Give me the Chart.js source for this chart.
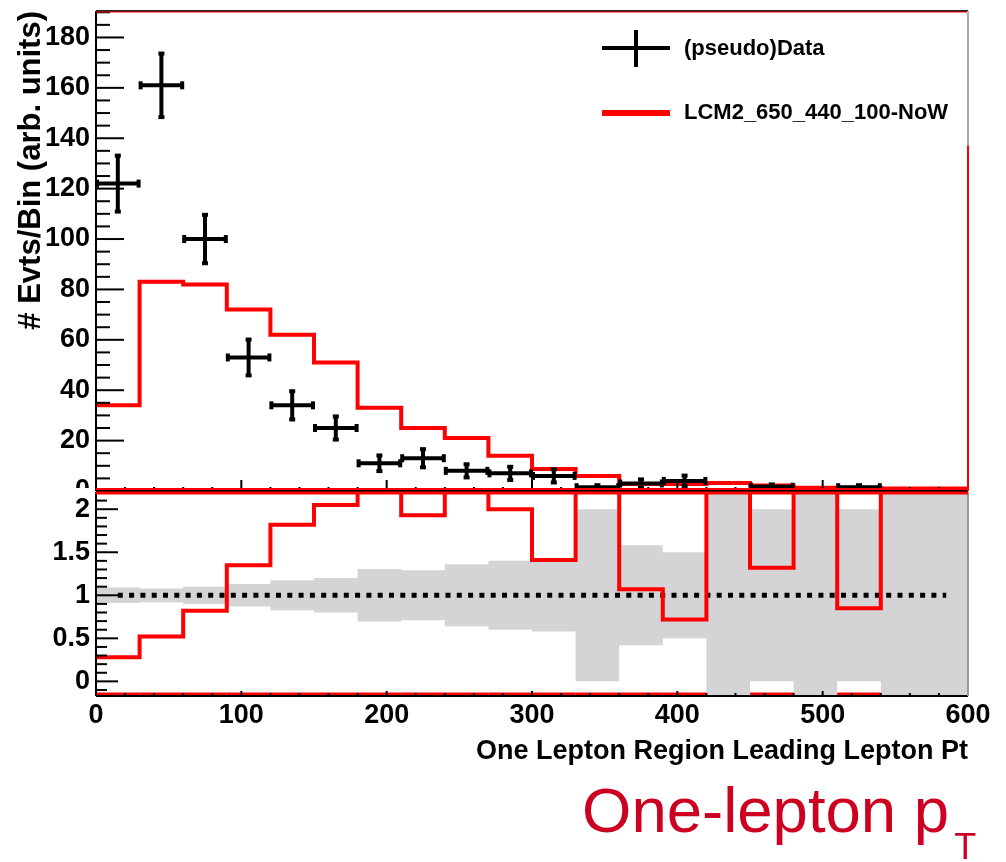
<!DOCTYPE html>
<html>
<head>
<meta charset="utf-8">
<script src="https://cdn.jsdelivr.net/npm/chart.js@4.4.1/dist/chart.umd.min.js"></script>
<style>
html, body { margin: 0; padding: 0; background: #fff; }
#wrap { position: relative; width: 1006px; height: 862px; overflow: hidden; }
#top_canvas { position: absolute; left: 0; top: 0; }
#ratio_canvas { position: absolute; left: 0; top: 480px; }
#tag { position: absolute; left: 582px; top: 779px; font: 63.5px "Liberation Sans", Arial, sans-serif; line-height: 63px; color: #cc0020; white-space: nowrap; }
#tag span { font-size: 36px; position: relative; top: 27px; margin-left: 5px; }
</style>
</head>
<body>
<div id="wrap">
  <canvas id="top_canvas" width="1006" height="497"></canvas>
  <canvas id="ratio_canvas" width="1006" height="300"></canvas>
  <div id="tag">One-lepton p<span>T</span></div>
</div>
<script>
// bins of the leading lepton pt histogram
var binEdges = [0, 30, 60, 90, 120, 150, 180, 210, 240, 270, 300, 330, 360, 390, 420, 450, 480, 510, 540, 570, 600];
var dataCounts = [122, 161, 100, 53, 34, 25, 11, 13, 8, 7, 6, 1.5, 3, 4, 0, 1.7, 0, 1.5, 0, 0];
var dataErrors = [11.5, 13, 10, 7.5, 6, 5, 3.5, 4, 3, 3, 3, 1.2, 2, 2.5, 0, 1.3, 0, 1.2, 0, 0];
var modelCounts = [34, 83, 82, 72, 62, 51, 33, 25, 21, 14, 8.7, 6, 2.8, 2.8, 3.2, 2.2, 1.3, 1.3, 1, 1];
// lower pad: model / data and the data uncertainty band around 1
var ratioValues = [0.28, 0.52, 0.82, 1.35, 1.82, 2.05, 3.0, 1.93, 2.6, 2.0, 1.41, 4.0, 1.07, 0.72, 10, 1.32, 10, 0.85, 10, 10];
var bandHalfWidths = [0.09, 0.08, 0.10, 0.13, 0.175, 0.2, 0.305, 0.29, 0.36, 0.4, 0.42, 1.0, 0.58, 0.5, 10, 1.0, 10, 1.0, 10, 10];
var refLevel = 1;

var xTicks = [0, 100, 200, 300, 400, 500, 600];
var topYTicks = [0, 20, 40, 60, 80, 100, 120, 140, 160, 180];
var ratioYTicks = [0, 0.5, 1, 1.5, 2];

Chart.defaults.font.family = '"Liberation Sans", Arial, sans-serif';
Chart.defaults.font.weight = 'bold';
Chart.defaults.color = '#000';

function stepPoints(values) {
    var pts = [];
    for (var i = 0; i < values.length; i++) {
        pts.push({x: binEdges[i], y: values[i]});
    }
    pts.push({x: binEdges[values.length], y: values[values.length - 1]});
    return pts;
}

function binCenter(i) {
    return (binEdges[i] + binEdges[i + 1]) / 2;
}

function minorValues(lo, hi, step) {
    var out = [];
    var k = Math.ceil(lo / step - 1e-9);
    while (k * step <= hi + 1e-9) {
        out.push(k * step);
        k++;
    }
    return out;
}

function setTicks(list) {
    return function (axis) {
        axis.ticks = list.map(function (v) { return {value: v}; });
    };
}

function plainLabel(value) {
    return String(value);
}

function line(ctx, x0, y0, x1, y1, color, width) {
    ctx.beginPath();
    ctx.strokeStyle = color;
    ctx.lineWidth = width;
    ctx.moveTo(x0, y0);
    ctx.lineTo(x1, y1);
    ctx.stroke();
}

function drawTicks(ctx, chart, xStep, yStep, xMajor, xMinor, yMajor, yMinor, yMajorList) {
    var a = chart.chartArea, xs = chart.scales.x, ys = chart.scales.y;
    minorValues(xs.min, xs.max, xStep).forEach(function (v) {
        var p = xs.getPixelForValue(v);
        var len = xTicks.indexOf(v) >= 0 ? xMajor : xMinor;
        line(ctx, p, a.bottom, p, a.bottom - len, '#000', 2);
    });
    minorValues(ys.min, ys.max, yStep).forEach(function (v) {
        var p = ys.getPixelForValue(v);
        var major = yMajorList.some(function (m) { return Math.abs(m - v) < 1e-6; });
        line(ctx, a.left, p, a.left + (major ? yMajor : yMinor), p, '#000', 2);
    });
}

var topFramePlugin = {
    id: 'topFrame',
    afterDatasetsDraw: function (chart) {
        var ctx = chart.ctx, xs = chart.scales.x, ys = chart.scales.y;
        ctx.save();
        ctx.fillStyle = '#000';
        for (var i = 0; i < dataCounts.length; i++) {
            if (dataCounts[i] <= 0) continue;
            var x0 = xs.getPixelForValue(binEdges[i]);
            var x1 = xs.getPixelForValue(binEdges[i + 1]);
            var cx = xs.getPixelForValue(binCenter(i));
            var cy = ys.getPixelForValue(dataCounts[i]);
            var yt = ys.getPixelForValue(dataCounts[i] + dataErrors[i]);
            var yb = ys.getPixelForValue(dataCounts[i] - dataErrors[i]);
            line(ctx, x0, cy, x1, cy, '#000', 4);
            line(ctx, cx, yt, cx, yb, '#000', 4);
            ctx.fillRect(x0 - 1, cy - 4, 4, 8);
            ctx.fillRect(x1 - 3, cy - 4, 4, 8);
            ctx.fillRect(cx - 3, yt - 1, 6, 4);
            ctx.fillRect(cx - 3, yb - 3, 6, 4);
        }
        ctx.restore();
    },
    afterDraw: function (chart) {
        var ctx = chart.ctx, a = chart.chartArea, ys = chart.scales.y;
        ctx.save();
        drawTicks(ctx, chart, 20, 5, 11, 4, 28, 14, topYTicks);
        line(ctx, a.left, a.top, a.left, a.bottom, '#000', 2);
        line(ctx, a.left, a.bottom, a.right, a.bottom, '#000', 2);
        line(ctx, a.left, a.bottom - 2, a.right, a.bottom - 2, '#ff0000', 2);
        line(ctx, a.left, a.top, a.right, a.top, '#222', 2);
        line(ctx, a.left, a.top + 1, a.right, a.top + 1, '#ff0000', 1);
        line(ctx, a.right, a.top, a.right, a.bottom, '#aaaaaa', 2);
        line(ctx, a.right, ys.getPixelForValue(137), a.right, a.bottom, '#ff0000', 2);

        // legend
        var sets = chart.data.datasets;
        var lx0 = a.left + 506, lx1 = a.left + 574, lt = a.left + 588;
        line(ctx, lx0, 48, lx1, 48, '#000', 4);
        line(ctx, (lx0 + lx1) / 2, 30, (lx0 + lx1) / 2, 67, '#000', 4);
        line(ctx, lx0, 113, lx1, 113, '#ff0000', 6);
        ctx.fillStyle = '#000';
        ctx.font = 'bold 22px "Liberation Sans", Arial, sans-serif';
        ctx.textAlign = 'left';
        ctx.textBaseline = 'middle';
        ctx.fillText(sets[0].label, lt, 49);
        ctx.fillText(sets[1].label, lt, 113);
        ctx.restore();
    }
};

var ratioFramePlugin = {
    id: 'ratioFrame',
    beforeDraw: function (chart) {
        // the lower pad hides most of the upper pad's "0" label
        var ctx = chart.ctx, a = chart.chartArea;
        ctx.save();
        ctx.fillStyle = '#fff';
        ctx.fillRect(0, a.top - 4, a.left - 2, 12);
        ctx.restore();
    },
    afterDraw: function (chart) {
        var ctx = chart.ctx, a = chart.chartArea, xs = chart.scales.x;
        ctx.save();
        for (var i = 0; i < dataCounts.length; i++) {
            if (dataCounts[i] <= 0) continue;
            line(ctx, xs.getPixelForValue(binEdges[i]), a.bottom - 2, xs.getPixelForValue(binEdges[i + 1]), a.bottom - 2, '#ff0000', 3);
        }
        drawTicks(ctx, chart, 20, 0.1, 5, 3, 22, 11, ratioYTicks);
        line(ctx, a.left, a.top, a.left, a.bottom, '#000', 2);
        line(ctx, a.left, a.bottom, a.right, a.bottom, '#000', 2);
        line(ctx, a.right, a.top, a.right, a.bottom, '#999999', 2);
        line(ctx, a.left, a.top + 1, a.right, a.top + 1, '#ff0000', 3);
        ctx.restore();
    }
};

function drawTopPanel() {
    var element = document.getElementById('top_canvas');
    if (!element) {
        return;
    }
    var dataPoints = dataCounts.map(function (v, i) { return {x: binCenter(i), y: v}; });

    new Chart(element, {
        type: 'line',
        data: {
            datasets: [{
                label: '(pseudo)Data',
                data: dataPoints,
                showLine: false,
                pointRadius: 0
            }, {
                label: 'LCM2_650_440_100-NoW',
                data: stepPoints(modelCounts),
                stepped: true,
                borderColor: '#ff0000',
                borderWidth: 4,
                pointRadius: 0,
                fill: false
            }]
        },
        options: {
            responsive: false,
            animation: false,
            events: [],
            layout: {
                padding: {left: 0, right: 38, top: 11, bottom: 6}
            },
            plugins: {
                legend: {display: false},
                tooltip: {enabled: false}
            },
            scales: {
                x: {
                    type: 'linear',
                    min: 0,
                    max: 600,
                    display: false
                },
                y: {
                    min: 0,
                    max: 190.5,
                    afterBuildTicks: setTicks(topYTicks),
                    afterFit: function (axis) {
                        axis.width = 96;
                        axis.paddingTop = 0;
                        axis.paddingBottom = 0;
                    },
                    grid: {display: false, drawTicks: false},
                    border: {display: false},
                    ticks: {
                        font: {size: 27, weight: 'bold'},
                        padding: 6,
                        autoSkip: false,
                        callback: plainLabel
                    },
                    title: {
                        display: true,
                        text: '# Evts/Bin (arb. units)',
                        align: 'end',
                        font: {size: 31, weight: 'bold'},
                        padding: {top: 13, bottom: 0}
                    }
                }
            }
        },
        plugins: [topFramePlugin]
    });
}

function drawRatioPanel() {
    var element = document.getElementById('ratio_canvas');
    if (!element) {
        return;
    }
    var last = binEdges.length - 2;
    var bandUp = bandHalfWidths.map(function (h) { return refLevel + h; });
    var bandDown = bandHalfWidths.map(function (h) { return refLevel - h; });

    new Chart(element, {
        type: 'line',
        data: {
            datasets: [{
                label: 'ratio',
                data: stepPoints(ratioValues),
                stepped: true,
                borderColor: '#ff0000',
                borderWidth: 4,
                pointRadius: 0,
                fill: false
            }, {
                label: 'unity',
                data: [{x: binCenter(0), y: refLevel}, {x: binCenter(last), y: refLevel}],
                borderColor: '#000',
                borderWidth: 5,
                borderDash: [5, 6.3],
                borderCapStyle: 'butt',
                pointRadius: 0,
                fill: false
            }, {
                label: 'band up',
                data: stepPoints(bandUp),
                stepped: true,
                borderWidth: 0,
                borderColor: 'rgba(0,0,0,0)',
                backgroundColor: '#d4d4d6',
                pointRadius: 0,
                fill: '+1'
            }, {
                label: 'band down',
                data: stepPoints(bandDown),
                stepped: true,
                borderWidth: 0,
                borderColor: 'rgba(0,0,0,0)',
                pointRadius: 0,
                fill: false
            }]
        },
        options: {
            responsive: false,
            animation: false,
            events: [],
            layout: {
                padding: {left: 0, right: 38, top: 12, bottom: 0}
            },
            plugins: {
                legend: {display: false},
                tooltip: {enabled: false}
            },
            scales: {
                x: {
                    type: 'linear',
                    min: 0,
                    max: 600,
                    afterBuildTicks: setTicks(xTicks),
                    afterFit: function (axis) {
                        axis.height = 84;
                        axis.paddingLeft = 0;
                        axis.paddingRight = 0;
                    },
                    grid: {display: false, drawTicks: false},
                    border: {display: false},
                    ticks: {
                        font: {size: 27, weight: 'bold'},
                        padding: 3,
                        maxRotation: 0,
                        autoSkip: false,
                        callback: plainLabel
                    },
                    title: {
                        display: true,
                        text: 'One Lepton Region Leading Lepton Pt',
                        align: 'end',
                        font: {size: 27, weight: 'bold'},
                        padding: {top: 0, bottom: 12}
                    }
                },
                y: {
                    min: -0.17,
                    max: 2.2,
                    afterBuildTicks: setTicks(ratioYTicks),
                    afterFit: function (axis) {
                        axis.width = 96;
                        axis.paddingTop = 0;
                        axis.paddingBottom = 0;
                    },
                    grid: {display: false, drawTicks: false},
                    border: {display: false},
                    ticks: {
                        font: {size: 27, weight: 'bold'},
                        padding: 6,
                        autoSkip: false,
                        callback: plainLabel
                    }
                }
            }
        },
        plugins: [ratioFramePlugin]
    });
}

drawTopPanel();
drawRatioPanel();
</script>
</body>
</html>
